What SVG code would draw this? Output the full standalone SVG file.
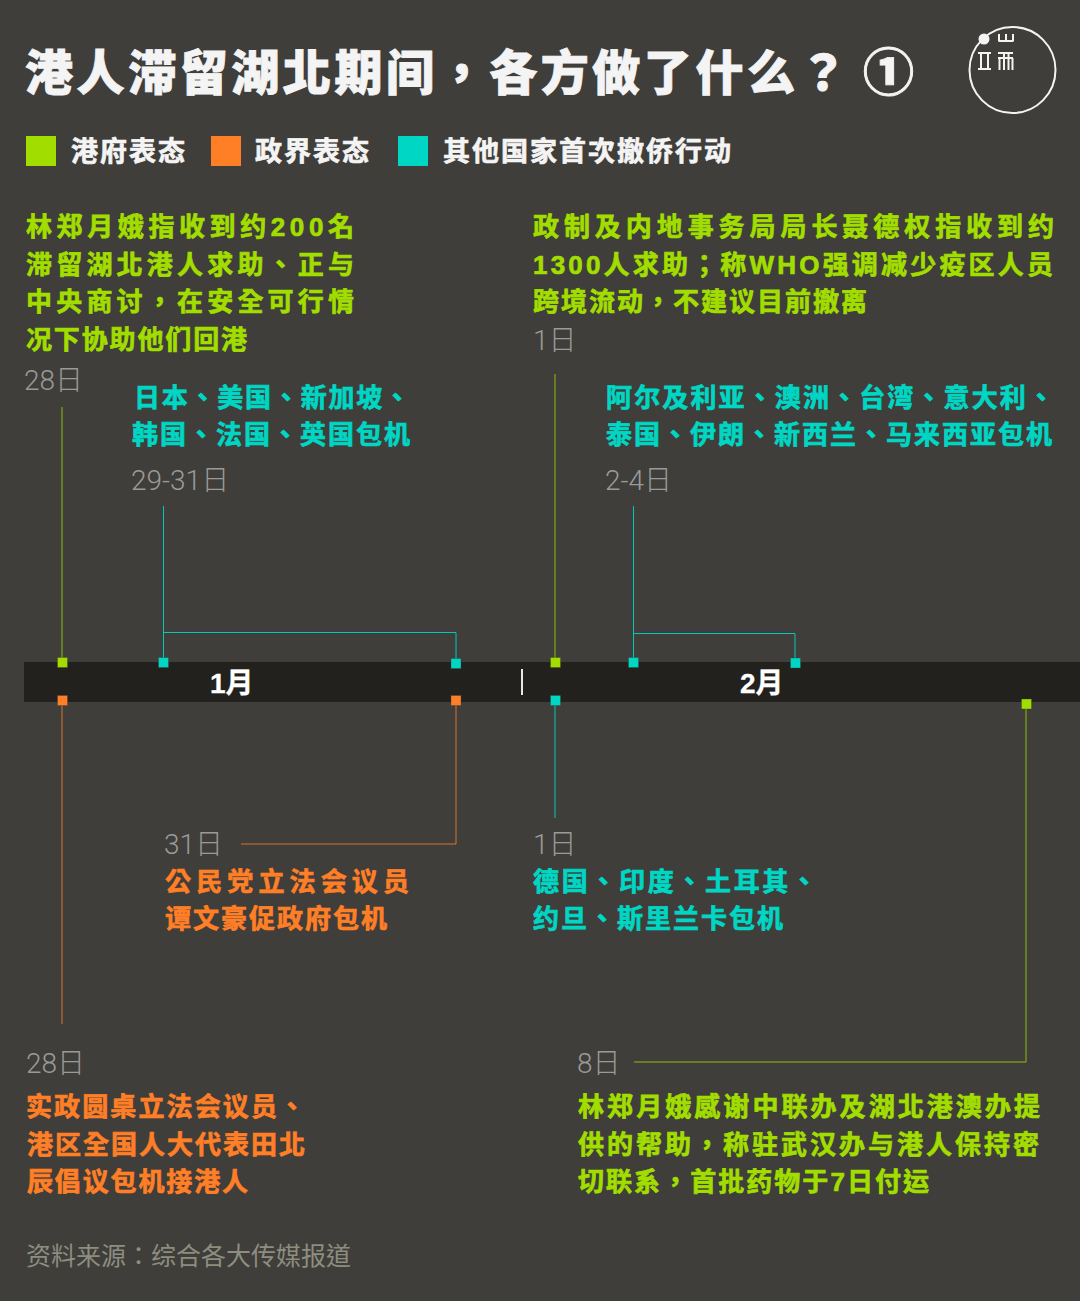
<svg xmlns="http://www.w3.org/2000/svg" width="1080" height="1301" viewBox="0 0 1080 1301">
<style>
text{font-family:"Liberation Sans","Noto Sans CJK TC","Noto Sans CJK SC",sans-serif;font-weight:700;font-size:26px;stroke-width:.7px}
.t{font-size:48px;font-weight:900;fill:#f4f4f4;stroke:#f4f4f4;stroke-width:.9px}
.l{font-size:27px;fill:#f4f4f4;stroke:#f4f4f4}
.g{fill:#a2dd00;stroke:#a2dd00}.o{fill:#ff7f27;stroke:#ff7f27}.c{fill:#00d6c4;stroke:#00d6c4}
.d{fill:#9a9a98;font-family:Roboto,"Noto Sans CJK TC",sans-serif;font-weight:300;font-size:28px;stroke:none}
.m{fill:#fff;font-size:28px;stroke:#fff;stroke-width:.3px}
.s{fill:#8d8d80;font-family:"Noto Sans CJK TC",sans-serif;font-weight:400;font-size:25px;stroke:none}
.lg{stroke:#a2dd00;fill:none;stroke-width:1;stroke-opacity:.8}.lo{stroke:#ff7f27;fill:none;stroke-width:1;stroke-opacity:.8}.lc{stroke:#00d6c4;fill:none;stroke-width:1;stroke-opacity:.9}
.k{stroke:#3f3e3a;stroke-opacity:.45;stroke-width:.8}
</style>
<rect width="1080" height="1301" fill="#3f3e3a"/>
<g id="title"><text class="t" x="25" y="90" textLength="770" lengthAdjust="spacing">港人滞留湖北期间，各方做了什么</text><text class="t" x="799" y="90">？</text><text class="t" font-size="50" style="font-size:51px" x="863" y="91">①</text></g>
<g id="logo" fill="none" stroke="#f4f4f4"><circle cx="1012.500" cy="70" r="43" stroke-width="2"/><circle cx="984" cy="39" r="5.500" fill="#f4f4f4" stroke="none"/><path stroke-width="2" d="M978 53h13M981 53v16M988 53v16M978 69h13M999 41v-7M1006 41v-7M1013 41v-7M998.500 41h15M998 53h15M998 58h15M999.500 58v12M1004 53v17M1008.500 53v17M1012.500 58v12"/></g>
<g id="legend"><rect x="26" y="136" width="30" height="30" fill="#a2dd00"/><text class="l" x="71" y="161" textLength="114" lengthAdjust="spacing">港府表态</text><rect x="211" y="136" width="30" height="30" fill="#ff7f27"/><text class="l" x="255" y="161" textLength="114" lengthAdjust="spacing">政界表态</text><rect x="398" y="136" width="30" height="30" fill="#00d6c4"/><text class="l" x="443" y="161" textLength="288" lengthAdjust="spacing">其他国家首次撤侨行动</text></g>
<g id="connectors"><path class="lg" d="M62 407V660M555 374V660M1026 706V1062H634"/><path class="lo" d="M62 704V1024M456 704V844H241"/><path class="lc" d="M163.500 506V660M163.500 632.500H456V660M633.500 506V660M633.500 633.500H795V660M555 704V818"/></g>
<g id="timeline"><rect x="24" y="662" width="1056" height="40" fill="#22211d"/><text class="m" x="210" y="693">1月</text><text class="m" x="740" y="693">2月</text><rect x="521" y="669" width="2" height="26" fill="#e8e8e8"/></g>
<g id="markers"><rect x="57.500" y="657.500" width="10" height="10" fill="#a2dd00" class="k"/><rect x="158.500" y="657.500" width="10" height="10" fill="#00d6c4" class="k"/><rect x="451" y="658.500" width="10" height="10" fill="#00d6c4" class="k"/><rect x="550.500" y="657.500" width="10" height="10" fill="#a2dd00" class="k"/><rect x="628.500" y="657.500" width="10" height="10" fill="#00d6c4" class="k"/><rect x="790.500" y="658" width="10" height="10" fill="#00d6c4" class="k"/><rect x="57.500" y="695.500" width="10" height="10" fill="#ff7f27" class="k"/><rect x="451" y="695.500" width="10" height="10" fill="#ff7f27" class="k"/><rect x="550.500" y="695.500" width="10" height="10" fill="#00d6c4" class="k"/><rect x="1021.500" y="699" width="10" height="10" fill="#a2dd00" class="k"/></g>
<g id="n1"><text class="g" x="26" y="236" textLength="328" lengthAdjust="spacing">林郑月娥指收到约200名</text><text class="g" x="26" y="274" textLength="328" lengthAdjust="spacing">滞留湖北港人求助、正与</text><text class="g" x="26" y="311" textLength="328" lengthAdjust="spacing">中央商讨，在安全可行情</text><text class="g" x="26" y="349" textLength="221" lengthAdjust="spacing">况下协助他们回港</text><text class="d" x="24" y="390">28日</text></g>
<g id="n2"><text class="g" x="533" y="236" textLength="521" lengthAdjust="spacing">政制及内地事务局局长聂德权指收到约</text><text class="g" x="533" y="274" textLength="520" lengthAdjust="spacing">1300人求助；称WHO强调减少疫区人员</text><text class="g" x="533" y="311" textLength="334" lengthAdjust="spacing">跨境流动，不建议目前撤离</text><text class="d" x="533" y="350">1日</text></g>
<g id="n3"><text class="c" x="134" y="407" textLength="276" lengthAdjust="spacing">日本、美国、新加坡、</text><text class="c" x="132" y="444" textLength="278" lengthAdjust="spacing">韩国、法国、英国包机</text><text class="d" x="131" y="490">29-31日</text></g>
<g id="n4"><text class="c" x="606" y="407" textLength="448" lengthAdjust="spacing">阿尔及利亚、澳洲、台湾、意大利、</text><text class="c" x="606" y="444" textLength="446" lengthAdjust="spacing">泰国、伊朗、新西兰、马来西亚包机</text><text class="d" x="605" y="490">2-4日</text></g>
<g id="n5"><text class="d" x="164" y="854">31日</text><text class="o" x="165" y="891" textLength="244" lengthAdjust="spacing">公民党立法会议员</text><text class="o" x="165" y="928" textLength="222" lengthAdjust="spacing">谭文豪促政府包机</text></g>
<g id="n6"><text class="d" x="533" y="854">1日</text><text class="c" x="533" y="891" textLength="284" lengthAdjust="spacing">德国、印度、土耳其、</text><text class="c" x="533" y="928" textLength="250" lengthAdjust="spacing">约旦、斯里兰卡包机</text></g>
<g id="n7"><text class="d" x="26" y="1073">28日</text><text class="o" x="26" y="1116" textLength="279" lengthAdjust="spacing">实政圆桌立法会议员、</text><text class="o" x="27" y="1154" textLength="278" lengthAdjust="spacing">港区全国人大代表田北</text><text class="o" x="27" y="1191" textLength="221" lengthAdjust="spacing">辰倡议包机接港人</text></g>
<g id="n8"><text class="d" x="577" y="1073">8日</text><text class="g" x="578" y="1116" textLength="462" lengthAdjust="spacing">林郑月娥感谢中联办及湖北港澳办提</text><text class="g" x="578" y="1154" textLength="461" lengthAdjust="spacing">供的帮助，称驻武汉办与港人保持密</text><text class="g" x="578" y="1191" textLength="351" lengthAdjust="spacing">切联系，首批药物于7日付运</text></g>
<text class="s" x="26" y="1265" textLength="325" lengthAdjust="spacing">资料来源：综合各大传媒报道</text>
</svg>
